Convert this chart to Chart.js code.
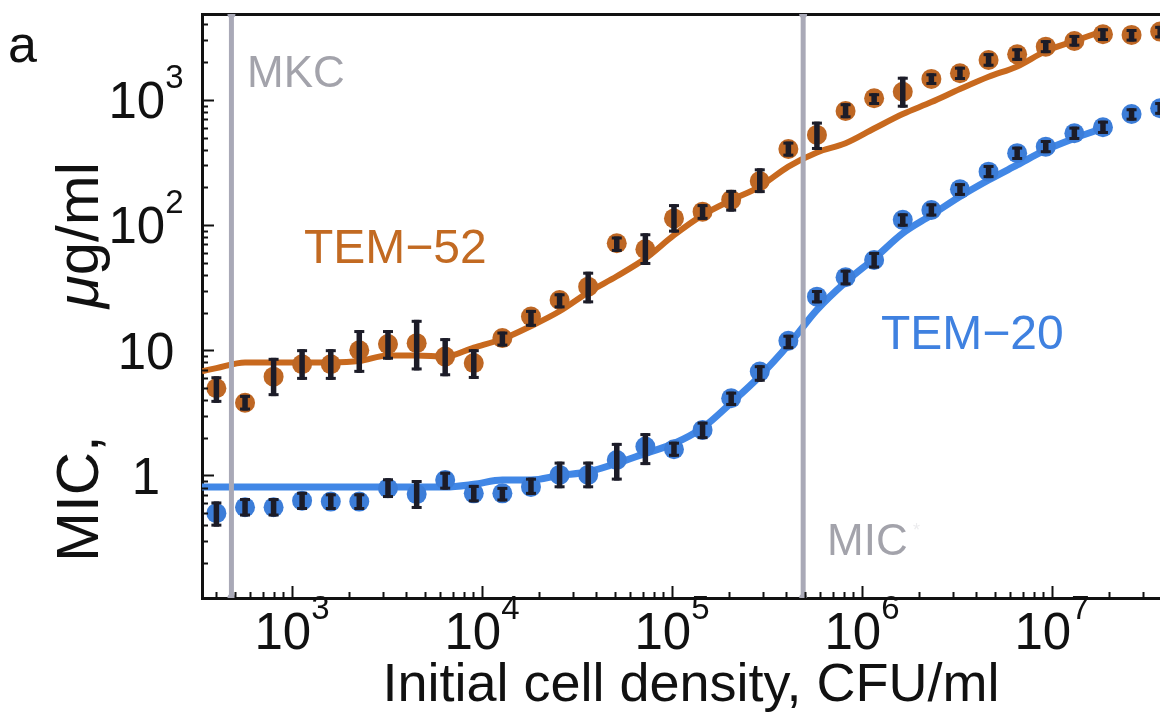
<!DOCTYPE html>
<html>
<head>
<meta charset="utf-8">
<script src="https://cdn.jsdelivr.net/npm/chart.js@4.4.1/dist/chart.umd.min.js"></script>
<style>
  html, body { margin: 0; padding: 0; background: #fff; overflow: hidden; }
  canvas { display: block; }
</style>
</head>
<body>
<canvas id="c" width="1160" height="725"></canvas>
<script>
// Initial cell densities of the √2 dilution series (CFU/ml)
const cellDensity = [400, 566, 800, 1130, 1600, 2260, 3200, 4530, 6400, 9050,
  12800, 18100, 25600, 36200, 51200, 72400, 102400, 144800, 204800, 289600,
  409600, 579000, 819200, 1158000, 1638400, 2317000, 3276800, 4634000, 6553600,
  9268000, 13107200, 18536000, 26214400, 37073000];

// TEM-52: measured MIC (µg/ml) with error-bar limits
const tem52Mic = [4.97, 3.81, 6.15, 7.73, 7.73, 10.0, 11.2, 11.4, 8.9, 7.9,
  12.5, 18.6, 25.2, 32.2, 71.6, 64.1, 113, 128, 159, 225,
  405, 525, 815, 1030, 1160, 1470, 1630, 2080, 2310, 2660, 2950, 3340, 3300, 3510];
const tem52Low = [3.8, 3.3, 4.3, 5.8, 5.8, 6.6, 8.4, 6.9, 6.2, 5.9,
  10.7, 15.4, 21.6, 23.7, 61, 48, 87, 110, 128, 180,
  352, 398, 713, 910, 866, 1315, 1440, 1840, 2050, 2360, 2660, 2950, 2920, 3100];
const tem52High = [6.2, 4.4, 8.7, 10.2, 10.2, 14.5, 14.5, 17.5, 12.5, 10.2,
  14.1, 21.0, 28.5, 42.4, 81, 86, 147, 147, 191, 284,
  464, 670, 940, 1130, 1530, 1630, 1840, 2360, 2580, 3000, 3300, 3730, 3680, 3900];

// TEM-20: measured MIC (µg/ml) with error-bar limits
const tem20Mic = [0.50, 0.557, 0.557, 0.629, 0.618, 0.618, 0.79, 0.71, 0.92, 0.72,
  0.72, 0.81, 1.01, 1.01, 1.33, 1.70, 1.62, 2.31, 4.14, 6.75,
  11.9, 26.8, 38.3, 52.6, 110, 132, 193, 267, 375, 423, 541, 604, 771, 857];
const tem20Low = [0.39, 0.47, 0.47, 0.53, 0.53, 0.53, 0.66, 0.54, 0.77, 0.61,
  0.62, 0.70, 0.79, 0.79, 0.91, 1.21, 1.41, 1.95, 3.59, 5.6,
  10.2, 23.7, 33, 45, 97, 117, 171, 237, 331, 375, 478, 534, 682, 760];
const tem20High = [0.62, 0.66, 0.66, 0.74, 0.72, 0.72, 0.95, 0.92, 1.07, 0.84,
  0.81, 0.96, 1.29, 1.29, 1.82, 2.18, 1.86, 2.69, 4.67, 7.6,
  13.3, 30.3, 44, 61, 124, 149, 216, 302, 423, 478, 611, 682, 857, 960];

// Model curves
const fitDensity = [336, 400, 566, 800, 1130, 1600, 2260, 3200, 4530, 6400, 9050,
  12800, 18100, 25600, 36200, 51200, 72400, 102400, 144800, 204800, 289600,
  409600, 579000, 819200, 1158000, 1638400, 2317000, 3276800, 4634000, 6553600,
  9268000, 13107200, 18536000];
const tem52Fit = [6.8, 7.2, 8.0, 8.0, 8.0, 8.0, 8.2, 9.1, 9.1, 8.9, 10.5,
  12.3, 15.6, 20.5, 29, 39, 54, 83, 120, 158, 203,
  293, 380, 450, 590, 770, 960, 1220, 1530, 1850, 2450, 2950, 3550];
const tem20Fit = [0.81, 0.81, 0.81, 0.81, 0.81, 0.81, 0.81, 0.81, 0.81, 0.81, 0.85,
  0.92, 0.92, 1.0, 1.07, 1.25, 1.5, 1.8, 2.4, 3.8, 6.2,
  11, 21, 35, 54, 86, 120, 169, 229, 302, 398, 493, 593];

// Reference densities (vertical markers)
const mkcDensity = 480;
const micDensity = 490000;

// Axis ticks and their labels
const xMajorTicks = [1e3, 1e4, 1e5, 1e6, 1e7];
const xTickLabels = [['10', '3'], ['10', '4'], ['10', '5'], ['10', '6'], ['10', '7']];
const yMajorTicks = [1, 10, 100, 1000];
const yTickLabels = [['1', ''], ['10', ''], ['10', '2'], ['10', '3']];

const X_MIN = 336, X_MAX = 3.70e7;
const Y_MIN = 0.105, Y_MAX = 4850;

const FONT = "'Liberation Sans', Arial, Helvetica, sans-serif";
const ORANGE_PT = '#BE6724', ORANGE_LN = '#C8691E';
const BLUE_PT = '#3C7DD8', BLUE_LN = '#4187E6';
const GREY_LN = '#A9A9B7', GREY_TXT = '#A3A3AB';
const BAR = '#1C1C28';

const pts = (xs, ys) => xs.map((v, i) => ({ x: v, y: ys[i] }));

function line(ctx, x1, y1, x2, y2) {
  ctx.beginPath(); ctx.moveTo(x1, y1); ctx.lineTo(x2, y2); ctx.stroke();
}

// Base with raised exponent, centred horizontally on cx, base digits centred on cy
function drawPower(ctx, base, exp, cx, cy, bs, es, color) {
  ctx.fillStyle = color;
  ctx.textAlign = 'left';
  ctx.textBaseline = 'alphabetic';
  ctx.font = bs + 'px ' + FONT;
  const wb = ctx.measureText(base).width;
  ctx.font = es + 'px ' + FONT;
  const we = exp ? ctx.measureText(exp).width : 0;
  const left = cx - (wb + we) / 2;
  const baseLine = cy + 0.716 * bs / 2;
  ctx.font = bs + 'px ' + FONT;
  ctx.fillText(base, left, baseLine);
  if (exp) {
    ctx.font = es + 'px ' + FONT;
    ctx.fillText(exp, left + wb, baseLine - 0.6 * bs);
  }
}

const decor = {
  id: 'decor',
  afterDatasetsDraw(chart) {
    const { ctx, chartArea: a, scales: { x, y } } = chart;
    ctx.save();
    ctx.beginPath();
    ctx.rect(a.left, a.top, a.right - a.left, a.bottom - a.top);
    ctx.clip();
    ctx.strokeStyle = BAR;
    ctx.lineCap = 'butt';
    const bars = (lo, hi) => {
      for (let i = 0; i < cellDensity.length; i++) {
        const px = x.getPixelForValue(cellDensity[i]);
        const y1 = y.getPixelForValue(lo[i]);
        const y2 = y.getPixelForValue(hi[i]);
        ctx.lineWidth = 5.5;
        line(ctx, px, y1, px, y2);
        ctx.lineWidth = 3;
        line(ctx, px - 5, y1 - 1.5, px + 5, y1 - 1.5);
        line(ctx, px - 5, y2 + 1.5, px + 5, y2 + 1.5);
      }
    };
    bars(tem52Low, tem52High);
    bars(tem20Low, tem20High);
    ctx.restore();
  },
  afterDraw(chart) {
    const { ctx, chartArea: a, scales: { x, y } } = chart;
    ctx.save();

    // inward ticks
    ctx.strokeStyle = '#111';
    ctx.lineWidth = 2;
    for (let k = -1; k <= 3; k++) {
      for (let m = 1; m <= 9; m++) {
        const v = m * Math.pow(10, k);
        if (v < Y_MIN || v > Y_MAX) continue;
        const py = Math.round(y.getPixelForValue(v)) + 0.5;
        line(ctx, a.left, py, a.left + (m === 1 ? 12 : 6), py);
      }
    }
    for (let k = 2; k <= 7; k++) {
      for (let m = 1; m <= 9; m++) {
        const v = m * Math.pow(10, k);
        if (v < X_MIN || v > X_MAX) continue;
        const px = Math.round(x.getPixelForValue(v)) + 0.5;
        line(ctx, px, a.bottom, px, a.bottom - (m === 1 ? 12 : 6));
      }
    }

    // tick labels
    xMajorTicks.forEach((v, i) => {
      drawPower(ctx, xTickLabels[i][0], xTickLabels[i][1],
        x.getPixelForValue(v), a.bottom + 33, 51, 33, '#111');
    });
    yMajorTicks.forEach((v, i) => {
      drawPower(ctx, yTickLabels[i][0], yTickLabels[i][1],
        146, y.getPixelForValue(v), 51, 33, '#111');
    });

    // axis titles
    ctx.fillStyle = '#111';
    ctx.font = '54px ' + FONT;
    ctx.textAlign = 'center';
    ctx.textBaseline = 'alphabetic';
    ctx.fillText('Initial cell density, CFU/ml', 691, 701);

    // rotated y title: "MIC," followed by a wide gap and the italic-µ unit
    ctx.save();
    ctx.translate(98, 362);
    ctx.rotate(-Math.PI / 2);
    const parts = [['MIC,', '60px ' + FONT], ['\u03bc', 'italic 60px ' + FONT], ['g/ml', '60px ' + FONT]];
    const widths = parts.map(p => { ctx.font = p[1]; return ctx.measureText(p[0]).width; });
    const totalLen = 400;
    const gap = totalLen - widths.reduce((s, w) => s + w, 0);
    let cx = -totalLen / 2;
    ctx.textAlign = 'left';
    parts.forEach((p, i) => {
      ctx.font = p[1];
      ctx.fillText(p[0], cx, 0);
      cx += widths[i] + (i === 0 ? gap : 0);
    });
    ctx.restore();

    // panel letter
    ctx.textAlign = 'left';
    ctx.fillStyle = '#111';
    ctx.font = '52px ' + FONT;
    ctx.fillText('a', 8, 62);

    // annotations
    ctx.fillStyle = GREY_TXT;
    ctx.font = '44px ' + FONT;
    ctx.fillText('MKC', 247, 87);
    ctx.fillText('MIC', 827, 555);
    ctx.fillStyle = '#ECECEE';
    ctx.font = '18px ' + FONT;
    ctx.fillText('*', 913, 536);

    ctx.font = '48px ' + FONT;
    ctx.fillStyle = '#C26A22';
    ctx.fillText('TEM\u221252', 304, 263);
    ctx.fillStyle = '#3F81E0';
    ctx.fillText('TEM\u221220', 881, 349);

    ctx.restore();
  }
};

const hiddenTicks = { display: false };
const noGrid = { display: false };
const solidBorder = { display: true, color: '#111', width: 3 };

new Chart(document.getElementById('c'), {
  type: 'scatter',
  data: {
    datasets: [
      { type: 'line', label: 'MKC', data: [{ x: mkcDensity, y: Y_MIN }, { x: mkcDensity, y: Y_MAX }],
        borderColor: GREY_LN, borderWidth: 5, pointRadius: 4, pointBackgroundColor: GREY_LN,
        pointBorderWidth: 0, order: 0 },
      { type: 'line', label: 'MIC*', data: [{ x: micDensity, y: Y_MIN }, { x: micDensity, y: Y_MAX }],
        borderColor: GREY_LN, borderWidth: 5, pointRadius: 4, pointBackgroundColor: GREY_LN,
        pointBorderWidth: 0, order: 0 },
      { label: 'TEM-52', data: pts(cellDensity, tem52Mic), backgroundColor: ORANGE_PT,
        borderWidth: 0, pointRadius: 10, order: 1 },
      { label: 'TEM-20', data: pts(cellDensity, tem20Mic), backgroundColor: BLUE_PT,
        borderWidth: 0, pointRadius: 10, order: 1 },
      { type: 'line', label: 'TEM-52 model', data: pts(fitDensity, tem52Fit), borderColor: ORANGE_LN,
        borderWidth: 6, pointRadius: 0, cubicInterpolationMode: 'monotone', order: 2 },
      { type: 'line', label: 'TEM-20 model', data: pts(fitDensity, tem20Fit), borderColor: BLUE_LN,
        borderWidth: 7, pointRadius: 0, cubicInterpolationMode: 'monotone', order: 2 }
    ]
  },
  options: {
    responsive: false,
    animation: false,
    devicePixelRatio: 1,
    layout: { padding: 0, autoPadding: false },
    plugins: { legend: { display: false }, tooltip: { enabled: false } },
    scales: {
      x: { type: 'logarithmic', position: 'bottom', min: X_MIN, max: X_MAX,
        ticks: hiddenTicks, grid: noGrid, border: solidBorder,
        afterFit: s => { s.height = 127; } },
      xTop: { type: 'logarithmic', position: 'top', min: X_MIN, max: X_MAX,
        ticks: hiddenTicks, grid: noGrid, border: solidBorder,
        afterFit: s => { s.height = 14; } },
      y: { type: 'logarithmic', position: 'left', min: Y_MIN, max: Y_MAX,
        ticks: hiddenTicks, grid: noGrid, border: solidBorder,
        afterFit: s => { s.width = 202; } }
    }
  },
  plugins: [decor]
});
</script>
</body>
</html>
